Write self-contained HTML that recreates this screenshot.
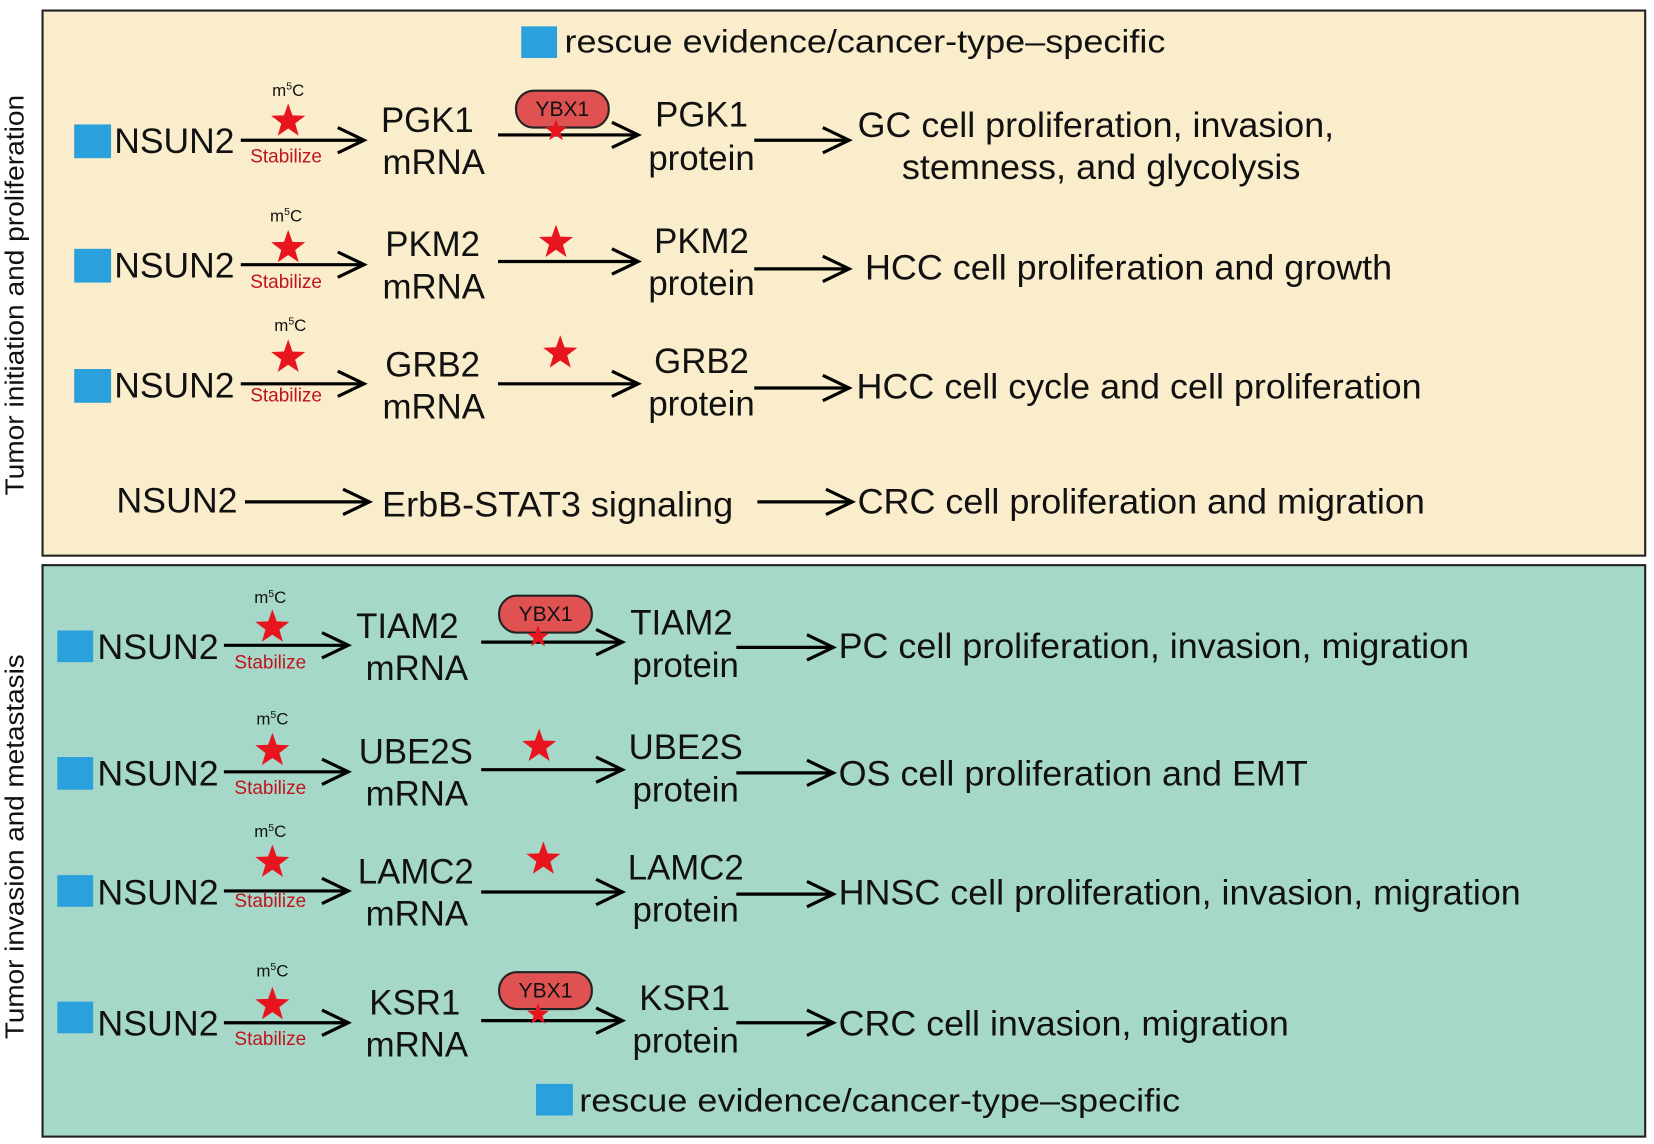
<!DOCTYPE html>
<html><head><meta charset="utf-8"><style>html,body{margin:0;padding:0;background:#fff}svg{display:block}</style></head>
<body>
<svg width="1654" height="1144" viewBox="0 0 1568 1085" xmlns="http://www.w3.org/2000/svg" font-family="Liberation Sans, Arial, sans-serif">
<defs>
<symbol id="st" viewBox="-16 -16 32 32" overflow="visible"><polygon points="0,-16 3.8,-5.3 15.2,-4.9 6.2,2 9.4,12.9 0,6.5 -9.4,12.9 -6.2,2 -15.2,-4.9 -3.8,-5.3" fill="#e8141e"/></symbol>
</defs>
<rect x="0" y="0" width="1568" height="1085" fill="#fff"/>
<rect x="40" y="10" width="1520" height="517" fill="#f9edcb" stroke="#222" stroke-width="2"/>
<rect x="40" y="536" width="1520" height="542" fill="#a5d8c8" stroke="#222" stroke-width="2"/>
<text transform="translate(22,280) rotate(-90)" text-anchor="middle" font-size="25" fill="#111" textLength="380" lengthAdjust="spacingAndGlyphs">Tumor initiation and proliferation</text>
<text transform="translate(22,803) rotate(-90)" text-anchor="middle" font-size="25" fill="#111" textLength="365" lengthAdjust="spacingAndGlyphs">Tumor invasion and metastasis</text>

<g fill="#2aa0dc">
<rect x="494" y="25" width="34" height="30"/>
<rect x="508" y="1028" width="35" height="30"/>
<rect x="70" y="118" width="35" height="32"/>
<rect x="70" y="236" width="35" height="32"/>
<rect x="70" y="350" width="35" height="32"/>
<rect x="54" y="598" width="34" height="30"/>
<rect x="54" y="718" width="34" height="31"/>
<rect x="54" y="830" width="34" height="30"/>
<rect x="54" y="950" width="34" height="30"/>
</g>
<g font-size="31" fill="#111">
<text x="535" y="50" textLength="570" lengthAdjust="spacingAndGlyphs">rescue evidence/cancer-type–specific</text>
<text x="549" y="1054" textLength="570" lengthAdjust="spacingAndGlyphs">rescue evidence/cancer-type–specific</text>
</g>

<g stroke="#000" stroke-width="3" fill="none">
<line x1="228" y1="133" x2="344" y2="133"/><polyline points="320,121 345,133 320,145"/>
<line x1="472" y1="128" x2="604" y2="128"/><polyline points="580,116 605,128 580,140"/>
<line x1="715" y1="133" x2="804" y2="133"/><polyline points="780,121 805,133 780,145"/>
<line x1="228" y1="251" x2="344" y2="251"/><polyline points="320,239 345,251 320,263"/>
<line x1="472" y1="248" x2="604" y2="248"/><polyline points="580,236 605,248 580,260"/>
<line x1="715" y1="255" x2="804" y2="255"/><polyline points="780,243 805,255 780,267"/>
<line x1="228" y1="364" x2="344" y2="364"/><polyline points="320,352 345,364 320,376"/>
<line x1="472" y1="364" x2="604" y2="364"/><polyline points="580,352 605,364 580,376"/>
<line x1="715" y1="368" x2="804" y2="368"/><polyline points="780,356 805,368 780,380"/>
<line x1="232" y1="476" x2="349" y2="476"/><polyline points="325,464 350,476 325,488"/>
<line x1="718" y1="476" x2="807" y2="476"/><polyline points="783,464 808,476 783,488"/>
<line x1="212" y1="612" x2="329" y2="612"/><polyline points="305,600 330,612 305,624"/>
<line x1="456" y1="609" x2="589" y2="609"/><polyline points="565,597 590,609 565,621"/>
<line x1="698" y1="614" x2="789" y2="614"/><polyline points="765,602 790,614 765,626"/>
<line x1="212" y1="732" x2="329" y2="732"/><polyline points="305,720 330,732 305,744"/>
<line x1="456" y1="730" x2="589" y2="730"/><polyline points="565,718 590,730 565,742"/>
<line x1="698" y1="733" x2="789" y2="733"/><polyline points="765,721 790,733 765,745"/>
<line x1="212" y1="845" x2="329" y2="845"/><polyline points="305,833 330,845 305,857"/>
<line x1="456" y1="846" x2="589" y2="846"/><polyline points="565,834 590,846 565,858"/>
<line x1="698" y1="848" x2="789" y2="848"/><polyline points="765,836 790,848 765,860"/>
<line x1="212" y1="970" x2="329" y2="970"/><polyline points="305,958 330,970 305,982"/>
<line x1="456" y1="968" x2="589" y2="968"/><polyline points="565,956 590,968 565,980"/>
<line x1="698" y1="970" x2="789" y2="970"/><polyline points="765,958 790,970 765,982"/>
</g>

<g stroke="#222" stroke-width="2" fill="#e05252">
<rect x="489" y="86" width="88" height="35" rx="17"/>
<rect x="473" y="565" width="88" height="35" rx="17"/>
<rect x="473" y="922" width="88" height="35" rx="17"/>
</g>
<g font-size="20" fill="#111" text-anchor="middle">
<text x="533" y="110">YBX1</text>
<text x="517" y="589">YBX1</text>
<text x="517" y="946">YBX1</text>
</g>

<use href="#st" x="256" y="98" width="34" height="34"/>
<use href="#st" x="256" y="218" width="34" height="34"/>
<use href="#st" x="256" y="322" width="34" height="34"/>
<use href="#st" x="241" y="578" width="34" height="34"/>
<use href="#st" x="241" y="695" width="34" height="34"/>
<use href="#st" x="241" y="801" width="34" height="34"/>
<use href="#st" x="241" y="936" width="34" height="34"/>
<use href="#st" x="510" y="213" width="34" height="34"/>
<use href="#st" x="514" y="318" width="34" height="34"/>
<use href="#st" x="494" y="691" width="34" height="34"/>
<use href="#st" x="498" y="798" width="34" height="34"/>
<use href="#st" x="516" y="113" width="22" height="22"/>
<use href="#st" x="499" y="593" width="22" height="22"/>
<use href="#st" x="499" y="951" width="22" height="22"/>

<g font-size="16" fill="#111" text-anchor="middle">
<text x="273" y="91">m<tspan font-size="10" dy="-6">5</tspan><tspan dy="6">C</tspan></text>
<text x="271" y="210">m<tspan font-size="10" dy="-6">5</tspan><tspan dy="6">C</tspan></text>
<text x="275" y="314">m<tspan font-size="10" dy="-6">5</tspan><tspan dy="6">C</tspan></text>
<text x="256" y="572">m<tspan font-size="10" dy="-6">5</tspan><tspan dy="6">C</tspan></text>
<text x="258" y="687">m<tspan font-size="10" dy="-6">5</tspan><tspan dy="6">C</tspan></text>
<text x="256" y="794">m<tspan font-size="10" dy="-6">5</tspan><tspan dy="6">C</tspan></text>
<text x="258" y="926">m<tspan font-size="10" dy="-6">5</tspan><tspan dy="6">C</tspan></text>
</g>
<g font-size="18" fill="#c0141c" text-anchor="middle">
<text x="271" y="154">Stabilize</text>
<text x="271" y="273">Stabilize</text>
<text x="271" y="381">Stabilize</text>
<text x="256" y="634">Stabilize</text>
<text x="256" y="753">Stabilize</text>
<text x="256" y="860">Stabilize</text>
<text x="256" y="991">Stabilize</text>
</g>

<g font-size="33" fill="#111">
<text x="108" y="145" textLength="114" lengthAdjust="spacingAndGlyphs">NSUN2</text>
<text x="108" y="263" textLength="114" lengthAdjust="spacingAndGlyphs">NSUN2</text>
<text x="108" y="377" textLength="114" lengthAdjust="spacingAndGlyphs">NSUN2</text>
<text x="110" y="486" textLength="115" lengthAdjust="spacingAndGlyphs">NSUN2</text>
<text x="92" y="625" textLength="115" lengthAdjust="spacingAndGlyphs">NSUN2</text>
<text x="92" y="745" textLength="115" lengthAdjust="spacingAndGlyphs">NSUN2</text>
<text x="92" y="858" textLength="115" lengthAdjust="spacingAndGlyphs">NSUN2</text>
<text x="92" y="982" textLength="115" lengthAdjust="spacingAndGlyphs">NSUN2</text>
<text x="362" y="490" textLength="333" lengthAdjust="spacingAndGlyphs">ErbB-STAT3 signaling</text>
<text x="813" y="130" textLength="452" lengthAdjust="spacingAndGlyphs">GC cell proliferation, invasion,</text>
<text x="855" y="170" textLength="378" lengthAdjust="spacingAndGlyphs">stemness, and glycolysis</text>
<text x="820" y="265" textLength="500" lengthAdjust="spacingAndGlyphs">HCC cell proliferation and growth</text>
<text x="812" y="378" textLength="536" lengthAdjust="spacingAndGlyphs">HCC cell cycle and cell proliferation</text>
<text x="813" y="487" textLength="538" lengthAdjust="spacingAndGlyphs">CRC cell proliferation and migration</text>
<text x="795" y="624" textLength="598" lengthAdjust="spacingAndGlyphs">PC cell proliferation, invasion, migration</text>
<text x="795" y="745" textLength="445" lengthAdjust="spacingAndGlyphs">OS cell proliferation and EMT</text>
<text x="795" y="858" textLength="647" lengthAdjust="spacingAndGlyphs">HNSC cell proliferation, invasion, migration</text>
<text x="795" y="982" textLength="427" lengthAdjust="spacingAndGlyphs">CRC cell invasion, migration</text>
</g>
<g font-size="33" fill="#111" text-anchor="middle">
<text x="405" y="125">PGK1</text><text x="411" y="165">mRNA</text>
<text x="665" y="120">PGK1</text><text x="665" y="161">protein</text>
<text x="410" y="243">PKM2</text><text x="411" y="283">mRNA</text>
<text x="665" y="240">PKM2</text><text x="665" y="280">protein</text>
<text x="410" y="357">GRB2</text><text x="411" y="397">mRNA</text>
<text x="665" y="354">GRB2</text><text x="665" y="394">protein</text>
<text x="386" y="605">TIAM2</text><text x="395" y="645">mRNA</text>
<text x="646" y="602">TIAM2</text><text x="650" y="642">protein</text>
<text x="394" y="724">UBE2S</text><text x="395" y="764">mRNA</text>
<text x="650" y="720">UBE2S</text><text x="650" y="760">protein</text>
<text x="394" y="838">LAMC2</text><text x="395" y="878">mRNA</text>
<text x="650" y="834">LAMC2</text><text x="650" y="874">protein</text>
<text x="393" y="962">KSR1</text><text x="395" y="1002">mRNA</text>
<text x="649" y="958">KSR1</text><text x="650" y="998">protein</text>
</g>
</svg>
</body></html>
